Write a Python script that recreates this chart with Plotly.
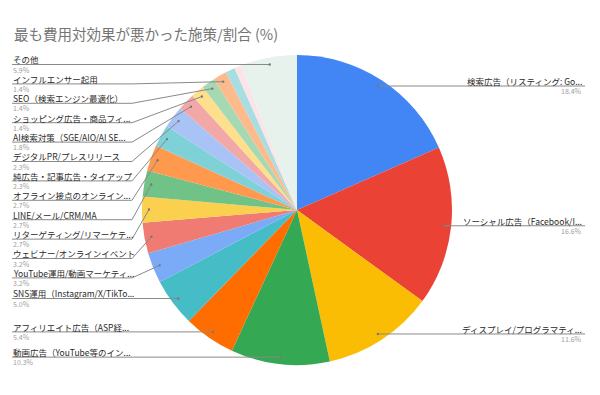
import math
import plotly.graph_objects as go

# ---- data ----
categories = [
    "検索広告（リスティング: Go...",
    "ソーシャル広告（Facebook/I...",
    "ディスプレイ/プログラマティ...",
    "動画広告（YouTube等のイン...",
    "アフィリエイト広告（ASP経...",
    "SNS運用（Instagram/X/TikTo...",
    "YouTube運用/動画マーケティ...",
    "ウェビナー/オンラインイベント",
    "リターゲティング/リマーケテ...",
    "LINE/メール/CRM/MA",
    "オフライン接点のオンライン...",
    "純広告・記事広告・タイアップ",
    "デジタルPR/プレスリリース",
    "AI検索対策（SGE/AIO/AI SE...",
    "ショッピング広告・商品フィ...",
    "SEO（検索エンジン最適化）",
    "インフルエンサー起用",
    "（ラベルなし1）",
    "（ラベルなし2）",
    "その他",
]
values = [18.4, 16.6, 11.6, 10.3, 5.4, 5.0, 3.2, 3.2, 2.7, 2.7, 2.7,
          2.3, 2.3, 1.8, 1.4, 1.4, 1.4, 1.0, 0.7, 5.9]
pct_labels = ["18.4%", "16.6%", "11.6%", "10.3%", "5.4%", "5.0%", "3.2%", "3.2%",
              "2.7%", "2.7%", "2.7%", "2.3%", "2.3%", "1.8%", "1.4%", "1.4%",
              "1.4%", None, None, "5.9%"]
title_text = "最も費用対効果が悪かった施策/割合 (%)"

# ---- styles ----
colors = ["#4285F4", "#EA4335", "#FBBC04", "#34A853", "#FF6D01", "#46BDC6",
          "#7BAAF7", "#F07B72", "#FCD04F", "#71C287", "#FF994D", "#7ED1D7",
          "#A9C3F6", "#F2A8A6", "#FDDF8C", "#A6D9B3", "#FDBB8D", "#A8DEE1",
          "#FBE4E8", "#E7F2EC"]

W, H = 600, 395
CX, CY, R = 297, 210, 155
FONT = "Noto Sans CJK JP"

def px(x):
    return x / W

def py(y):
    return 1 - y / H

fig = go.Figure()
fig.add_trace(go.Pie(
    labels=categories, values=values, sort=False, direction="clockwise",
    rotation=0, textinfo="none", hoverinfo="skip",
    marker=dict(colors=colors, line=dict(width=0)),
    domain=dict(x=[px(CX - R), px(CX + R)], y=[py(CY + R), py(CY - R)]),
    showlegend=False,
))

# anchors from data
total = sum(values)
cum = 0.0
anchors = []
for v in values:
    mid = (cum + v / 2) / total * 360.0
    cum += v
    ra = R * 0.955
    ax = CX + ra * math.sin(math.radians(mid))
    ay = CY - ra * math.cos(math.radians(mid))
    anchors.append((mid, ax, ay))

shapes = []
annotations = []
LINE_COL = "#8a8a8a"
SPACING = 19.4
KNEE_X = 132
LEFT_X = 12
RIGHT_X = 585
TXT = dict(family=FONT, size=8.5, color="#2a2a2a")
PCT = dict(family=FONT, size=7, color="#a0a0a0")

def add_label(x, ly, name, pct, anchor):
    annotations.append(dict(x=px(x), y=py(ly - 5.2), xref="paper", yref="paper",
                            text=name, showarrow=False, xanchor=anchor, borderpad=0,
                            yanchor="middle", font=TXT))
    annotations.append(dict(x=px(x), y=py(ly + 5), xref="paper", yref="paper",
                            text=pct, showarrow=False, xanchor=anchor, borderpad=0,
                            yanchor="middle", font=PCT))

# left side: stack top-down
left = [i for i in range(len(values)) if pct_labels[i] is not None and anchors[i][0] >= 180]
left.sort(key=lambda i: anchors[i][2])
prev = -1e9
for i in left:
    _, ax, ay = anchors[i]
    ly = max(ay, prev + SPACING)
    prev = ly
    if abs(ly - ay) < 0.5 or ax <= KNEE_X:
        path = f"M {px(LEFT_X)},{py(ly)} L {px(ax)},{py(ay)}"
    else:
        path = f"M {px(LEFT_X)},{py(ly)} L {px(KNEE_X)},{py(ly)} L {px(ax)},{py(ay)}"
    shapes.append(dict(type="path", path=path, xref="paper", yref="paper",
                       line=dict(color=LINE_COL, width=1)))
    add_label(LEFT_X, ly, categories[i], pct_labels[i], "left")

# right side
right = [i for i in range(len(values)) if pct_labels[i] is not None and anchors[i][0] < 180]
for i in right:
    _, ax, ay = anchors[i]
    shapes.append(dict(type="line", x0=px(ax), y0=py(ay), x1=px(RIGHT_X), y1=py(ay),
                       xref="paper", yref="paper", line=dict(color=LINE_COL, width=1)))
    add_label(RIGHT_X - 2, ay, categories[i], pct_labels[i], "right")

# anchor dots
for i in range(len(values)):
    if pct_labels[i] is None:
        continue
    _, ax, ay = anchors[i]
    shapes.append(dict(type="circle", xref="paper", yref="paper",
                       x0=px(ax - 1.2), x1=px(ax + 1.2), y0=py(ay + 1.2), y1=py(ay - 1.2),
                       fillcolor="#777777", line=dict(width=0)))

annotations.append(dict(x=px(12), y=py(33), xref="paper", yref="paper", text=title_text,
                        showarrow=False, xanchor="left", yanchor="middle",
                        font=dict(family=FONT, size=14.5, color="#757575")))

fig.update_layout(
    width=W, height=H, margin=dict(l=0, r=0, t=0, b=0),
    paper_bgcolor="white", plot_bgcolor="white",
    shapes=shapes, annotations=annotations,
)
fig.write_html("out.html")
